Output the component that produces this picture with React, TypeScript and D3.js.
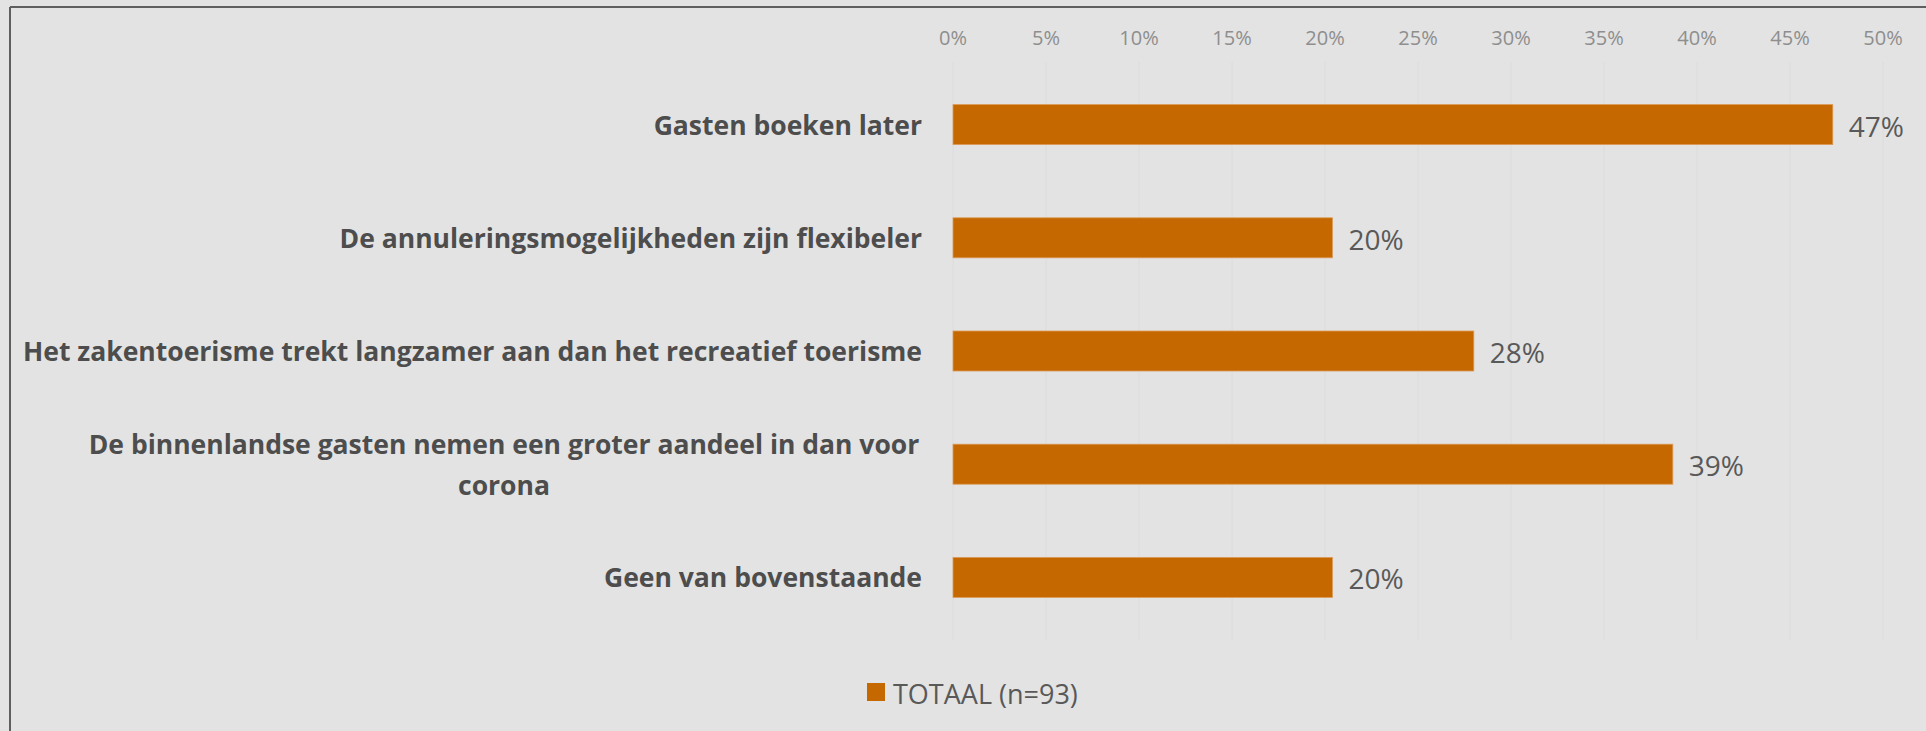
import * as d3 from "d3";

const categories = [
  "Gasten boeken later",
  "De annuleringsmogelijkheden zijn flexibeler",
  "Het zakentoerisme trekt langzamer aan dan het recreatief toerisme",
  "De binnenlandse gasten nemen een groter aandeel in dan voor|corona",
  "Geen van bovenstaande",
];
const totaal = [0.473, 0.204, 0.28, 0.387, 0.204];
const ticks = [0, 0.05, 0.1, 0.15, 0.2, 0.25, 0.3, 0.35, 0.4, 0.45, 0.5];
const seriesName = "TOTAAL (n=93)";

const W = 1926;
const H = 731;
const FONT = "'Open Sans', 'Noto Sans', sans-serif";

export default function App() {
  const x = d3.scaleLinear().domain([0, 0.5]).range([953, 1883]);
  const y = d3.scalePoint<string>().domain(categories).range([68, 634]).padding(0.5);
  const barH = 40;
  const pct = d3.format(".0%");

  return (
    <div style={{ position: "absolute", left: 0, top: 0 }}>
      <svg width={W} height={H} style={{ display: "block" }}>
        <rect x={0} y={0} width={W} height={H} fill="#e3e3e3" />
        {/* frame */}
        <line x1={10} x2={W} y1={7} y2={7} stroke="#5f5f5f" strokeWidth={2} />
        <line x1={10} x2={10} y1={7} y2={H} stroke="#5f5f5f" strokeWidth={2} />

        {/* grid + ticks */}
        {ticks.map((t) => (
          <g key={t}>
            <line x1={x(t)} x2={x(t)} y1={62} y2={640} stroke="#dcdcdc" strokeWidth={1} />
            <text
              x={x(t)}
              y={37}
              textAnchor="middle"
              dominantBaseline="central"
              fontFamily={FONT}
              fontSize={20}
              fill="#8e8e8e"
            >
              {pct(t)}
            </text>
          </g>
        ))}

        {/* bars */}
        {categories.map((c, i) => {
          const cy = y(c) as number;
          const lines = c.split("|");
          return (
            <g key={c}>
              <rect
                x={x(0)}
                y={cy - barH / 2}
                width={x(totaal[i]) - x(0)}
                height={barH}
                fill="#c56800"
                stroke="#dc9a55"
                strokeWidth={0.8}
              />
              <text
                x={x(totaal[i]) + 16}
                y={cy + 1}
                dominantBaseline="central"
                fontFamily={FONT}
                fontSize={28}
                fill="#595959"
              >
                {pct(totaal[i])}
              </text>
              {lines.length === 1 ? (
                <text
                  x={922}
                  y={cy}
                  textAnchor="end"
                  dominantBaseline="central"
                  fontFamily={FONT}
                  fontWeight={700}
                  fontSize={26.5}
                  fill="#4d4d4d"
                >
                  {c}
                </text>
              ) : (
                <text
                  x={504}
                  textAnchor="middle"
                  dominantBaseline="central"
                  fontFamily={FONT}
                  fontWeight={700}
                  fontSize={26.5}
                  fill="#4d4d4d"
                >
                  {lines.map((l, k) => (
                    <tspan key={k} x={504} y={cy - 20 + k * 41}>
                      {l}
                    </tspan>
                  ))}
                </text>
              )}
            </g>
          );
        })}

        {/* legend */}
        <rect x={867} y={683} width={18} height={18} fill="#c56800" />
        <text
          x={893}
          y={693}
          dominantBaseline="central"
          fontFamily={FONT}
          fontSize={27}
          fill="#595959"
        >
          {seriesName}
        </text>
      </svg>
    </div>
  );
}
